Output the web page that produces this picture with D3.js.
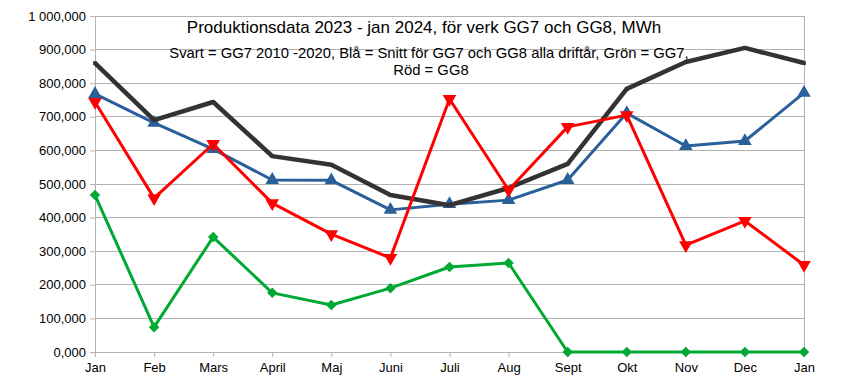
<!DOCTYPE html>
<html><head><meta charset="utf-8">
<script src="https://cdn.jsdelivr.net/npm/d3@7"></script>
<style>body{margin:0;background:#fff}svg{display:block}text{font-family:"Liberation Sans",Arial,sans-serif}</style>
</head><body><svg id="c" width="850" height="389"></svg>
<script>
const months = ["Jan","Feb","Mars","April","Maj","Juni","Juli","Aug","Sept","Okt","Nov","Dec","Jan"];
const black = [860000,690000,744000,583000,557000,467000,437000,488000,560000,783000,863000,905000,860000];
const blue  = [768000,682000,604000,512000,511000,423000,440000,452000,512000,711000,613000,628000,771000];
const red   = [744000,458000,619000,443000,351000,280000,753000,482000,670000,705000,318000,390000,259000];
const green = [467000,74000,342000,176000,140000,190000,253000,265000,0,0,0,0,0];
const yTicks = [0,100000,200000,300000,400000,500000,600000,700000,800000,900000,1000000];
const yTickLabels = ["0,000","100,000","200,000","300,000","400,000","500,000","600,000","700,000","800,000","900,000","1 000,000"];
const title = "Produktionsdata 2023 - jan 2024, för verk GG7 och GG8, MWh";
const subtitle = ["Svart = GG7 2010 -2020, Blå = Snitt för GG7 och GG8 alla driftår, Grön = GG7,","Röd = GG8"];

const svg = d3.select("#c");
const L=95,R=804,T=16,B=352;
const x = d3.scaleLinear().domain([0,months.length-1]).range([L,R]);
const y = d3.scaleLinear().domain([0,1000000]).range([B,T]);

svg.append("g").selectAll("line").data(yTicks).join("line")
  .attr("x1",L).attr("x2",R).attr("y1",d=>y(d)).attr("y2",d=>y(d))
  .attr("stroke","#b3b3b3").attr("stroke-width",1).attr("shape-rendering","crispEdges");
svg.append("line").attr("x1",R).attr("x2",R).attr("y1",T).attr("y2",B)
  .attr("stroke","#b3b3b3").attr("shape-rendering","crispEdges");

const yAxis = d3.axisLeft(y).tickValues(yTicks).tickFormat((d,i)=>yTickLabels[i]).tickSize(5).tickPadding(4);
const gy = svg.append("g").attr("transform",`translate(${L},0)`).call(yAxis);
gy.select(".domain").attr("stroke","#b3b3b3");
gy.selectAll(".tick line").attr("stroke","#b3b3b3");
gy.selectAll("text").attr("font-size",13).attr("fill","#000").attr("font-family","Liberation Sans, Arial, sans-serif");

const xAxis = d3.axisBottom(x).tickValues(d3.range(months.length)).tickFormat(i=>months[i]).tickSize(5).tickPadding(6);
const gx = svg.append("g").attr("transform",`translate(0,${B})`).call(xAxis);
gx.select(".domain").attr("stroke","#b3b3b3");
gx.selectAll(".tick line").attr("stroke","#b3b3b3");
gx.selectAll("text").attr("font-size",13).attr("fill","#000").attr("font-family","Liberation Sans, Arial, sans-serif");

const line = d3.line().x((d,i)=>x(i)).y(d=>y(d));
const series = [
  {data:green,color:"#00a933",sym:d3.symbolDiamond2,size:70,rot:0,w:3},
  {data:blue,color:"#2a6099",sym:d3.symbolTriangle,size:80,rot:0,w:3},
  {data:black,color:"#333333",sym:d3.symbolSquare,size:14,rot:0,w:4.5},
  {data:red,color:"#ff0000",sym:d3.symbolTriangle,size:80,rot:180,w:3},
];
series.forEach(s=>{
  svg.append("path").datum(s.data).attr("d",line).attr("fill","none")
    .attr("stroke",s.color).attr("stroke-width",s.w).attr("stroke-linejoin","round");
  svg.append("g").selectAll("path").data(s.data).join("path")
    .attr("d",d3.symbol(s.sym,s.size))
    .attr("transform",(d,i)=>`translate(${x(i)},${y(d)}) rotate(${s.rot})`)
    .attr("fill",s.color);
});

svg.append("text").attr("x",424).attr("y",33).attr("text-anchor","middle").attr("font-size",17).text(title);
svg.append("text").attr("x",429).attr("y",58).attr("text-anchor","middle").attr("font-size",14.8).text(subtitle[0]);
svg.append("text").attr("x",431).attr("y",75).attr("text-anchor","middle").attr("font-size",14.8).text(subtitle[1]);
</script></body></html>
